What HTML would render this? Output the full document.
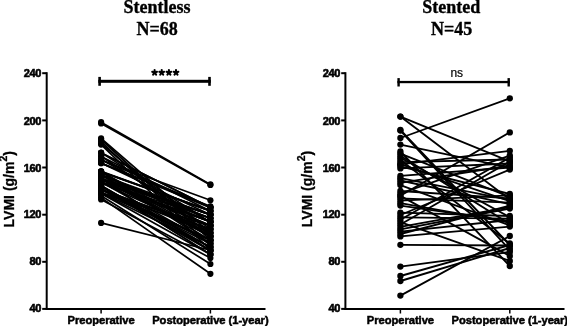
<!DOCTYPE html>
<html><head><meta charset="utf-8">
<style>
html,body{margin:0;padding:0;background:#fff;}
body{width:567px;height:326px;overflow:hidden;}
svg{display:block;will-change:transform;}
.t{font-family:"Liberation Serif",serif;font-weight:bold;font-size:18px;fill:#000;stroke:#000;stroke-width:0.35px;}
.tk{font-family:"Liberation Sans",sans-serif;font-weight:bold;font-size:11px;fill:#000;stroke:#000;stroke-width:0.6px;letter-spacing:-0.4px;}
.xl{font-family:"Liberation Sans",sans-serif;font-weight:bold;font-size:11.2px;fill:#000;stroke:#000;stroke-width:0.5px;letter-spacing:-0.05px;}
.yl{font-family:"Liberation Sans",sans-serif;font-weight:bold;font-size:14px;fill:#000;stroke:#000;stroke-width:0.3px;}
.ns{font-family:"Liberation Sans",sans-serif;font-size:12px;fill:#000;stroke:#000;stroke-width:0.2px;}
</style></head>
<body>
<svg width="567" height="326" viewBox="0 0 567 326" xmlns="http://www.w3.org/2000/svg">
<defs>
<g id="star" stroke="#000" stroke-width="2.1" stroke-linecap="round"><line x1="0" y1="0" x2="0.00" y2="-2.50"/><line x1="0" y1="0" x2="2.38" y2="-0.77"/><line x1="0" y1="0" x2="1.47" y2="2.02"/><line x1="0" y1="0" x2="-1.47" y2="2.02"/><line x1="0" y1="0" x2="-2.38" y2="-0.77"/></g>
</defs>
<!-- titles -->
<text class="t" x="157" y="12.7" text-anchor="middle">Stentless</text>
<text class="t" x="157.2" y="35.2" text-anchor="middle">N=68</text>
<text class="t" x="451.3" y="12.7" text-anchor="middle">Stented</text>
<text class="t" x="451.7" y="35.2" text-anchor="middle">N=45</text>

<!-- LEFT axes -->
<g stroke="#000" fill="none">
<line x1="46.7" y1="72.2" x2="46.7" y2="309.9" stroke-width="2"/>
<line x1="45.7" y1="308.9" x2="265.5" y2="308.9" stroke-width="2"/>
<g stroke-width="2">
<line x1="42.2" y1="73.2" x2="46.7" y2="73.2"/>
<line x1="42.2" y1="120.4" x2="46.7" y2="120.4"/>
<line x1="42.2" y1="167.5" x2="46.7" y2="167.5"/>
<line x1="42.2" y1="214.7" x2="46.7" y2="214.7"/>
<line x1="42.2" y1="261.8" x2="46.7" y2="261.8"/>
<line x1="42.2" y1="308.9" x2="46.7" y2="308.9"/>
</g>
<line x1="101.1" y1="309" x2="101.1" y2="313.5" stroke-width="1.5"/>
<line x1="210.4" y1="309" x2="210.4" y2="313.5" stroke-width="1.5"/>
</g>
<g class="tk" text-anchor="end">
<text x="41" y="77.4">240</text>
<text x="41" y="124.7">200</text>
<text x="41" y="171.65">160</text>
<text x="41" y="218.2">120</text>
<text x="41" y="264.9">80</text>
<text x="41" y="312.2">40</text>
</g>
<g transform="translate(0,0.6)"><text class="xl" x="101.1" y="323" text-anchor="middle">Preoperative</text>
<text class="xl" x="210.4" y="323" text-anchor="middle">Postoperative (1-year)</text></g>
<text class="yl" transform="translate(13.6,227.4) rotate(-90)">LVMI (g/m<tspan font-size="10.5" dy="-6.6">2</tspan><tspan dy="6.6">)</tspan></text>

<!-- RIGHT axes -->
<g stroke="#000" fill="none">
<line x1="345.4" y1="72.2" x2="345.4" y2="309.9" stroke-width="2"/>
<line x1="344.4" y1="308.9" x2="564.5" y2="308.9" stroke-width="2"/>
<g stroke-width="2">
<line x1="341.2" y1="73.2" x2="345.4" y2="73.2"/>
<line x1="341.2" y1="120.4" x2="345.4" y2="120.4"/>
<line x1="341.2" y1="167.5" x2="345.4" y2="167.5"/>
<line x1="341.2" y1="214.7" x2="345.4" y2="214.7"/>
<line x1="341.2" y1="261.8" x2="345.4" y2="261.8"/>
<line x1="341.2" y1="308.9" x2="345.4" y2="308.9"/>
</g>
<line x1="400.4" y1="309" x2="400.4" y2="313.5" stroke-width="1.5"/>
<line x1="509.8" y1="309" x2="509.8" y2="313.5" stroke-width="1.5"/>
</g>
<g class="tk" text-anchor="end">
<text x="340" y="77.4">240</text>
<text x="340" y="124.7">200</text>
<text x="340" y="171.65">160</text>
<text x="340" y="218.2">120</text>
<text x="340" y="264.9">80</text>
<text x="340" y="312.2">40</text>
</g>
<g transform="translate(0,0.6)"><text class="xl" x="400.4" y="323" text-anchor="middle">Preoperative</text>
<text class="xl" x="509.8" y="323" text-anchor="middle">Postoperative (1-year)</text></g>
<text class="yl" transform="translate(312,227.2) rotate(-90)">LVMI (g/m<tspan font-size="10.5" dy="-6.6">2</tspan><tspan dy="6.6">)</tspan></text>

<!-- significance brackets -->
<g fill="#000">
<rect x="98.3" y="79.8" width="112.5" height="3"/>
<rect x="98.3" y="76.9" width="2.6" height="8.9"/>
<rect x="208.2" y="76.9" width="2.6" height="8.9"/>
<rect x="397.4" y="80.9" width="112.4" height="2.3"/>
<rect x="397.4" y="78.1" width="2.4" height="8.4"/>
<rect x="507.5" y="78.1" width="2.4" height="8.4"/>
</g>
<use href="#star" x="154.6" y="72.6"/>
<use href="#star" x="161.7" y="72.6"/>
<use href="#star" x="168.9" y="72.6"/>
<use href="#star" x="176" y="72.6"/>
<text class="ns" x="450.4" y="77">ns</text>

<!-- data -->
<g stroke="#000" stroke-width="1.7" stroke-linecap="round"><line x1="101.1" y1="122.2" x2="210.4" y2="184.4"/><line x1="101.1" y1="123.4" x2="210.4" y2="185.0"/><line x1="101.1" y1="222.9" x2="210.4" y2="250.2"/><line x1="101.1" y1="197.6" x2="210.4" y2="273.8"/><line x1="101.1" y1="195.8" x2="210.4" y2="264.0"/><line x1="101.1" y1="199.4" x2="210.4" y2="258.0"/><line x1="101.1" y1="160.3" x2="210.4" y2="200.3"/><line x1="101.1" y1="163.2" x2="210.4" y2="206.4"/><line x1="101.1" y1="138.3" x2="210.4" y2="233.0"/><line x1="101.1" y1="139.5" x2="210.4" y2="240.0"/><line x1="101.1" y1="141.5" x2="210.4" y2="246.0"/><line x1="101.1" y1="143.5" x2="210.4" y2="236.0"/><line x1="101.1" y1="144.6" x2="210.4" y2="250.0"/><line x1="101.1" y1="159.8" x2="210.4" y2="207.3"/><line x1="101.1" y1="152.9" x2="210.4" y2="207.5"/><line x1="101.1" y1="152.8" x2="210.4" y2="207.6"/><line x1="101.1" y1="163.1" x2="210.4" y2="207.7"/><line x1="101.1" y1="171.9" x2="210.4" y2="210.9"/><line x1="101.1" y1="171.7" x2="210.4" y2="210.9"/><line x1="101.1" y1="171.4" x2="210.4" y2="210.9"/><line x1="101.1" y1="156.5" x2="210.4" y2="211.1"/><line x1="101.1" y1="178.4" x2="210.4" y2="214.5"/><line x1="101.1" y1="178.9" x2="210.4" y2="214.6"/><line x1="101.1" y1="163.0" x2="210.4" y2="214.7"/><line x1="101.1" y1="175.0" x2="210.4" y2="215.0"/><line x1="101.1" y1="182.5" x2="210.4" y2="218.0"/><line x1="101.1" y1="175.1" x2="210.4" y2="218.3"/><line x1="101.1" y1="178.7" x2="210.4" y2="218.3"/><line x1="101.1" y1="174.8" x2="210.4" y2="218.5"/><line x1="101.1" y1="182.2" x2="210.4" y2="221.6"/><line x1="101.1" y1="175.3" x2="210.4" y2="221.9"/><line x1="101.1" y1="159.3" x2="210.4" y2="222.2"/><line x1="101.1" y1="152.6" x2="210.4" y2="222.2"/><line x1="101.1" y1="179.0" x2="210.4" y2="225.5"/><line x1="101.1" y1="192.7" x2="210.4" y2="225.6"/><line x1="101.1" y1="182.3" x2="210.4" y2="225.8"/><line x1="101.1" y1="193.5" x2="210.4" y2="228.8"/><line x1="101.1" y1="156.3" x2="210.4" y2="228.9"/><line x1="101.1" y1="189.3" x2="210.4" y2="229.4"/><line x1="101.1" y1="171.4" x2="210.4" y2="232.6"/><line x1="101.1" y1="182.7" x2="210.4" y2="233.0"/><line x1="101.1" y1="189.7" x2="210.4" y2="233.0"/><line x1="101.1" y1="171.9" x2="210.4" y2="236.1"/><line x1="101.1" y1="175.2" x2="210.4" y2="236.5"/><line x1="101.1" y1="179.0" x2="210.4" y2="236.6"/><line x1="101.1" y1="189.2" x2="210.4" y2="240.2"/><line x1="101.1" y1="193.1" x2="210.4" y2="240.2"/><line x1="101.1" y1="174.8" x2="210.4" y2="240.3"/><line x1="101.1" y1="182.1" x2="210.4" y2="243.3"/><line x1="101.1" y1="171.6" x2="210.4" y2="243.5"/><line x1="101.1" y1="189.4" x2="210.4" y2="243.7"/><line x1="101.1" y1="193.5" x2="210.4" y2="247.1"/><line x1="101.1" y1="185.8" x2="210.4" y2="247.2"/><line x1="101.1" y1="186.0" x2="210.4" y2="247.3"/><line x1="101.1" y1="185.5" x2="210.4" y2="250.3"/><line x1="101.1" y1="189.1" x2="210.4" y2="250.7"/><line x1="101.1" y1="178.7" x2="210.4" y2="251.0"/><line x1="101.1" y1="186.1" x2="210.4" y2="254.4"/><line x1="101.1" y1="185.9" x2="210.4" y2="254.4"/><line x1="101.1" y1="193.4" x2="210.4" y2="254.5"/><line x1="101.1" y1="189.3" x2="210.4" y2="229.4"/><line x1="101.1" y1="179.0" x2="210.4" y2="236.6"/><line x1="101.1" y1="189.2" x2="210.4" y2="240.2"/><line x1="101.1" y1="179.0" x2="210.4" y2="225.5"/><line x1="101.1" y1="178.9" x2="210.4" y2="214.6"/><line x1="101.1" y1="192.7" x2="210.4" y2="225.6"/><line x1="101.1" y1="182.2" x2="210.4" y2="221.6"/><line x1="101.1" y1="182.2" x2="210.4" y2="221.6"/></g><g fill="#000"><circle cx="101.1" cy="122.2" r="3.1"/><circle cx="210.4" cy="184.4" r="3.1"/><circle cx="101.1" cy="123.4" r="3.1"/><circle cx="210.4" cy="185.0" r="3.1"/><circle cx="101.1" cy="222.9" r="3.1"/><circle cx="210.4" cy="250.2" r="3.1"/><circle cx="101.1" cy="197.6" r="3.1"/><circle cx="210.4" cy="273.8" r="3.1"/><circle cx="101.1" cy="195.8" r="3.1"/><circle cx="210.4" cy="264.0" r="3.1"/><circle cx="101.1" cy="199.4" r="3.1"/><circle cx="210.4" cy="258.0" r="3.1"/><circle cx="101.1" cy="160.3" r="3.1"/><circle cx="210.4" cy="200.3" r="3.1"/><circle cx="101.1" cy="163.2" r="3.1"/><circle cx="210.4" cy="206.4" r="3.1"/><circle cx="101.1" cy="138.3" r="3.1"/><circle cx="210.4" cy="233.0" r="3.1"/><circle cx="101.1" cy="139.5" r="3.1"/><circle cx="210.4" cy="240.0" r="3.1"/><circle cx="101.1" cy="141.5" r="3.1"/><circle cx="210.4" cy="246.0" r="3.1"/><circle cx="101.1" cy="143.5" r="3.1"/><circle cx="210.4" cy="236.0" r="3.1"/><circle cx="101.1" cy="144.6" r="3.1"/><circle cx="210.4" cy="250.0" r="3.1"/><circle cx="101.1" cy="159.8" r="3.1"/><circle cx="210.4" cy="207.3" r="3.1"/><circle cx="101.1" cy="152.9" r="3.1"/><circle cx="210.4" cy="207.5" r="3.1"/><circle cx="101.1" cy="152.8" r="3.1"/><circle cx="210.4" cy="207.6" r="3.1"/><circle cx="101.1" cy="163.1" r="3.1"/><circle cx="210.4" cy="207.7" r="3.1"/><circle cx="101.1" cy="171.9" r="3.1"/><circle cx="210.4" cy="210.9" r="3.1"/><circle cx="101.1" cy="171.7" r="3.1"/><circle cx="210.4" cy="210.9" r="3.1"/><circle cx="101.1" cy="171.4" r="3.1"/><circle cx="210.4" cy="210.9" r="3.1"/><circle cx="101.1" cy="156.5" r="3.1"/><circle cx="210.4" cy="211.1" r="3.1"/><circle cx="101.1" cy="178.4" r="3.1"/><circle cx="210.4" cy="214.5" r="3.1"/><circle cx="101.1" cy="178.9" r="3.1"/><circle cx="210.4" cy="214.6" r="3.1"/><circle cx="101.1" cy="163.0" r="3.1"/><circle cx="210.4" cy="214.7" r="3.1"/><circle cx="101.1" cy="175.0" r="3.1"/><circle cx="210.4" cy="215.0" r="3.1"/><circle cx="101.1" cy="182.5" r="3.1"/><circle cx="210.4" cy="218.0" r="3.1"/><circle cx="101.1" cy="175.1" r="3.1"/><circle cx="210.4" cy="218.3" r="3.1"/><circle cx="101.1" cy="178.7" r="3.1"/><circle cx="210.4" cy="218.3" r="3.1"/><circle cx="101.1" cy="174.8" r="3.1"/><circle cx="210.4" cy="218.5" r="3.1"/><circle cx="101.1" cy="182.2" r="3.1"/><circle cx="210.4" cy="221.6" r="3.1"/><circle cx="101.1" cy="175.3" r="3.1"/><circle cx="210.4" cy="221.9" r="3.1"/><circle cx="101.1" cy="159.3" r="3.1"/><circle cx="210.4" cy="222.2" r="3.1"/><circle cx="101.1" cy="152.6" r="3.1"/><circle cx="210.4" cy="222.2" r="3.1"/><circle cx="101.1" cy="179.0" r="3.1"/><circle cx="210.4" cy="225.5" r="3.1"/><circle cx="101.1" cy="192.7" r="3.1"/><circle cx="210.4" cy="225.6" r="3.1"/><circle cx="101.1" cy="182.3" r="3.1"/><circle cx="210.4" cy="225.8" r="3.1"/><circle cx="101.1" cy="193.5" r="3.1"/><circle cx="210.4" cy="228.8" r="3.1"/><circle cx="101.1" cy="156.3" r="3.1"/><circle cx="210.4" cy="228.9" r="3.1"/><circle cx="101.1" cy="189.3" r="3.1"/><circle cx="210.4" cy="229.4" r="3.1"/><circle cx="101.1" cy="171.4" r="3.1"/><circle cx="210.4" cy="232.6" r="3.1"/><circle cx="101.1" cy="182.7" r="3.1"/><circle cx="210.4" cy="233.0" r="3.1"/><circle cx="101.1" cy="189.7" r="3.1"/><circle cx="210.4" cy="233.0" r="3.1"/><circle cx="101.1" cy="171.9" r="3.1"/><circle cx="210.4" cy="236.1" r="3.1"/><circle cx="101.1" cy="175.2" r="3.1"/><circle cx="210.4" cy="236.5" r="3.1"/><circle cx="101.1" cy="179.0" r="3.1"/><circle cx="210.4" cy="236.6" r="3.1"/><circle cx="101.1" cy="189.2" r="3.1"/><circle cx="210.4" cy="240.2" r="3.1"/><circle cx="101.1" cy="193.1" r="3.1"/><circle cx="210.4" cy="240.2" r="3.1"/><circle cx="101.1" cy="174.8" r="3.1"/><circle cx="210.4" cy="240.3" r="3.1"/><circle cx="101.1" cy="182.1" r="3.1"/><circle cx="210.4" cy="243.3" r="3.1"/><circle cx="101.1" cy="171.6" r="3.1"/><circle cx="210.4" cy="243.5" r="3.1"/><circle cx="101.1" cy="189.4" r="3.1"/><circle cx="210.4" cy="243.7" r="3.1"/><circle cx="101.1" cy="193.5" r="3.1"/><circle cx="210.4" cy="247.1" r="3.1"/><circle cx="101.1" cy="185.8" r="3.1"/><circle cx="210.4" cy="247.2" r="3.1"/><circle cx="101.1" cy="186.0" r="3.1"/><circle cx="210.4" cy="247.3" r="3.1"/><circle cx="101.1" cy="185.5" r="3.1"/><circle cx="210.4" cy="250.3" r="3.1"/><circle cx="101.1" cy="189.1" r="3.1"/><circle cx="210.4" cy="250.7" r="3.1"/><circle cx="101.1" cy="178.7" r="3.1"/><circle cx="210.4" cy="251.0" r="3.1"/><circle cx="101.1" cy="186.1" r="3.1"/><circle cx="210.4" cy="254.4" r="3.1"/><circle cx="101.1" cy="185.9" r="3.1"/><circle cx="210.4" cy="254.4" r="3.1"/><circle cx="101.1" cy="193.4" r="3.1"/><circle cx="210.4" cy="254.5" r="3.1"/><circle cx="101.1" cy="189.3" r="3.1"/><circle cx="210.4" cy="229.4" r="3.1"/><circle cx="101.1" cy="179.0" r="3.1"/><circle cx="210.4" cy="236.6" r="3.1"/><circle cx="101.1" cy="189.2" r="3.1"/><circle cx="210.4" cy="240.2" r="3.1"/><circle cx="101.1" cy="179.0" r="3.1"/><circle cx="210.4" cy="225.5" r="3.1"/><circle cx="101.1" cy="178.9" r="3.1"/><circle cx="210.4" cy="214.6" r="3.1"/><circle cx="101.1" cy="192.7" r="3.1"/><circle cx="210.4" cy="225.6" r="3.1"/><circle cx="101.1" cy="182.2" r="3.1"/><circle cx="210.4" cy="221.6" r="3.1"/><circle cx="101.1" cy="182.2" r="3.1"/><circle cx="210.4" cy="221.6" r="3.1"/></g><g stroke="#000" stroke-width="1.85" stroke-linecap="round"><line x1="400.4" y1="116.6" x2="509.8" y2="161.5"/><line x1="400.4" y1="116.6" x2="509.8" y2="199.6"/><line x1="400.4" y1="130.0" x2="509.8" y2="245.0"/><line x1="400.4" y1="130.6" x2="509.8" y2="250.0"/><line x1="400.4" y1="138.0" x2="509.8" y2="98.3"/><line x1="400.4" y1="144.6" x2="509.8" y2="167.6"/><line x1="400.4" y1="164.4" x2="509.8" y2="150.8"/><line x1="400.4" y1="195.7" x2="509.8" y2="132.4"/><line x1="400.4" y1="244.8" x2="509.8" y2="245.5"/><line x1="400.4" y1="295.6" x2="509.8" y2="236.0"/><line x1="400.4" y1="281.0" x2="509.8" y2="248.0"/><line x1="400.4" y1="276.0" x2="509.8" y2="245.0"/><line x1="400.4" y1="266.6" x2="509.8" y2="252.0"/><line x1="400.4" y1="193.4" x2="509.8" y2="155.5"/><line x1="400.4" y1="219.7" x2="509.8" y2="157.5"/><line x1="400.4" y1="162.1" x2="509.8" y2="159.5"/><line x1="400.4" y1="224.5" x2="509.8" y2="161.5"/><line x1="400.4" y1="168.4" x2="509.8" y2="163.5"/><line x1="400.4" y1="182.8" x2="509.8" y2="165.5"/><line x1="400.4" y1="175.9" x2="509.8" y2="167.5"/><line x1="400.4" y1="215.0" x2="509.8" y2="169.5"/><line x1="400.4" y1="166.3" x2="509.8" y2="194.0"/><line x1="400.4" y1="200.7" x2="509.8" y2="195.4"/><line x1="400.4" y1="153.6" x2="509.8" y2="196.9"/><line x1="400.4" y1="191.0" x2="509.8" y2="198.3"/><line x1="400.4" y1="178.2" x2="509.8" y2="199.8"/><line x1="400.4" y1="164.2" x2="509.8" y2="201.2"/><line x1="400.4" y1="198.3" x2="509.8" y2="202.7"/><line x1="400.4" y1="180.5" x2="509.8" y2="204.2"/><line x1="400.4" y1="234.0" x2="509.8" y2="205.6"/><line x1="400.4" y1="226.9" x2="509.8" y2="207.1"/><line x1="400.4" y1="229.3" x2="509.8" y2="208.5"/><line x1="400.4" y1="212.6" x2="509.8" y2="216.0"/><line x1="400.4" y1="157.8" x2="509.8" y2="217.3"/><line x1="400.4" y1="217.4" x2="509.8" y2="218.7"/><line x1="400.4" y1="231.6" x2="509.8" y2="220.0"/><line x1="400.4" y1="205.6" x2="509.8" y2="221.3"/><line x1="400.4" y1="203.2" x2="509.8" y2="222.6"/><line x1="400.4" y1="155.7" x2="509.8" y2="223.9"/><line x1="400.4" y1="185.1" x2="509.8" y2="225.3"/><line x1="400.4" y1="236.4" x2="509.8" y2="226.6"/><line x1="400.4" y1="159.9" x2="509.8" y2="243.5"/><line x1="400.4" y1="195.9" x2="509.8" y2="256.0"/><line x1="400.4" y1="222.1" x2="509.8" y2="261.0"/><line x1="400.4" y1="151.5" x2="509.8" y2="266.0"/></g><g fill="#000"><circle cx="400.4" cy="116.6" r="3.15"/><circle cx="509.8" cy="161.5" r="3.15"/><circle cx="400.4" cy="116.6" r="3.15"/><circle cx="509.8" cy="199.6" r="3.15"/><circle cx="400.4" cy="130.0" r="3.15"/><circle cx="509.8" cy="245.0" r="3.15"/><circle cx="400.4" cy="130.6" r="3.15"/><circle cx="509.8" cy="250.0" r="3.15"/><circle cx="400.4" cy="138.0" r="3.15"/><circle cx="509.8" cy="98.3" r="3.15"/><circle cx="400.4" cy="144.6" r="3.15"/><circle cx="509.8" cy="167.6" r="3.15"/><circle cx="400.4" cy="164.4" r="3.15"/><circle cx="509.8" cy="150.8" r="3.15"/><circle cx="400.4" cy="195.7" r="3.15"/><circle cx="509.8" cy="132.4" r="3.15"/><circle cx="400.4" cy="244.8" r="3.15"/><circle cx="509.8" cy="245.5" r="3.15"/><circle cx="400.4" cy="295.6" r="3.15"/><circle cx="509.8" cy="236.0" r="3.15"/><circle cx="400.4" cy="281.0" r="3.15"/><circle cx="509.8" cy="248.0" r="3.15"/><circle cx="400.4" cy="276.0" r="3.15"/><circle cx="509.8" cy="245.0" r="3.15"/><circle cx="400.4" cy="266.6" r="3.15"/><circle cx="509.8" cy="252.0" r="3.15"/><circle cx="400.4" cy="193.4" r="3.15"/><circle cx="509.8" cy="155.5" r="3.15"/><circle cx="400.4" cy="219.7" r="3.15"/><circle cx="509.8" cy="157.5" r="3.15"/><circle cx="400.4" cy="162.1" r="3.15"/><circle cx="509.8" cy="159.5" r="3.15"/><circle cx="400.4" cy="224.5" r="3.15"/><circle cx="509.8" cy="161.5" r="3.15"/><circle cx="400.4" cy="168.4" r="3.15"/><circle cx="509.8" cy="163.5" r="3.15"/><circle cx="400.4" cy="182.8" r="3.15"/><circle cx="509.8" cy="165.5" r="3.15"/><circle cx="400.4" cy="175.9" r="3.15"/><circle cx="509.8" cy="167.5" r="3.15"/><circle cx="400.4" cy="215.0" r="3.15"/><circle cx="509.8" cy="169.5" r="3.15"/><circle cx="400.4" cy="166.3" r="3.15"/><circle cx="509.8" cy="194.0" r="3.15"/><circle cx="400.4" cy="200.7" r="3.15"/><circle cx="509.8" cy="195.4" r="3.15"/><circle cx="400.4" cy="153.6" r="3.15"/><circle cx="509.8" cy="196.9" r="3.15"/><circle cx="400.4" cy="191.0" r="3.15"/><circle cx="509.8" cy="198.3" r="3.15"/><circle cx="400.4" cy="178.2" r="3.15"/><circle cx="509.8" cy="199.8" r="3.15"/><circle cx="400.4" cy="164.2" r="3.15"/><circle cx="509.8" cy="201.2" r="3.15"/><circle cx="400.4" cy="198.3" r="3.15"/><circle cx="509.8" cy="202.7" r="3.15"/><circle cx="400.4" cy="180.5" r="3.15"/><circle cx="509.8" cy="204.2" r="3.15"/><circle cx="400.4" cy="234.0" r="3.15"/><circle cx="509.8" cy="205.6" r="3.15"/><circle cx="400.4" cy="226.9" r="3.15"/><circle cx="509.8" cy="207.1" r="3.15"/><circle cx="400.4" cy="229.3" r="3.15"/><circle cx="509.8" cy="208.5" r="3.15"/><circle cx="400.4" cy="212.6" r="3.15"/><circle cx="509.8" cy="216.0" r="3.15"/><circle cx="400.4" cy="157.8" r="3.15"/><circle cx="509.8" cy="217.3" r="3.15"/><circle cx="400.4" cy="217.4" r="3.15"/><circle cx="509.8" cy="218.7" r="3.15"/><circle cx="400.4" cy="231.6" r="3.15"/><circle cx="509.8" cy="220.0" r="3.15"/><circle cx="400.4" cy="205.6" r="3.15"/><circle cx="509.8" cy="221.3" r="3.15"/><circle cx="400.4" cy="203.2" r="3.15"/><circle cx="509.8" cy="222.6" r="3.15"/><circle cx="400.4" cy="155.7" r="3.15"/><circle cx="509.8" cy="223.9" r="3.15"/><circle cx="400.4" cy="185.1" r="3.15"/><circle cx="509.8" cy="225.3" r="3.15"/><circle cx="400.4" cy="236.4" r="3.15"/><circle cx="509.8" cy="226.6" r="3.15"/><circle cx="400.4" cy="159.9" r="3.15"/><circle cx="509.8" cy="243.5" r="3.15"/><circle cx="400.4" cy="195.9" r="3.15"/><circle cx="509.8" cy="256.0" r="3.15"/><circle cx="400.4" cy="222.1" r="3.15"/><circle cx="509.8" cy="261.0" r="3.15"/><circle cx="400.4" cy="151.5" r="3.15"/><circle cx="509.8" cy="266.0" r="3.15"/></g>
</svg>
</body></html>
